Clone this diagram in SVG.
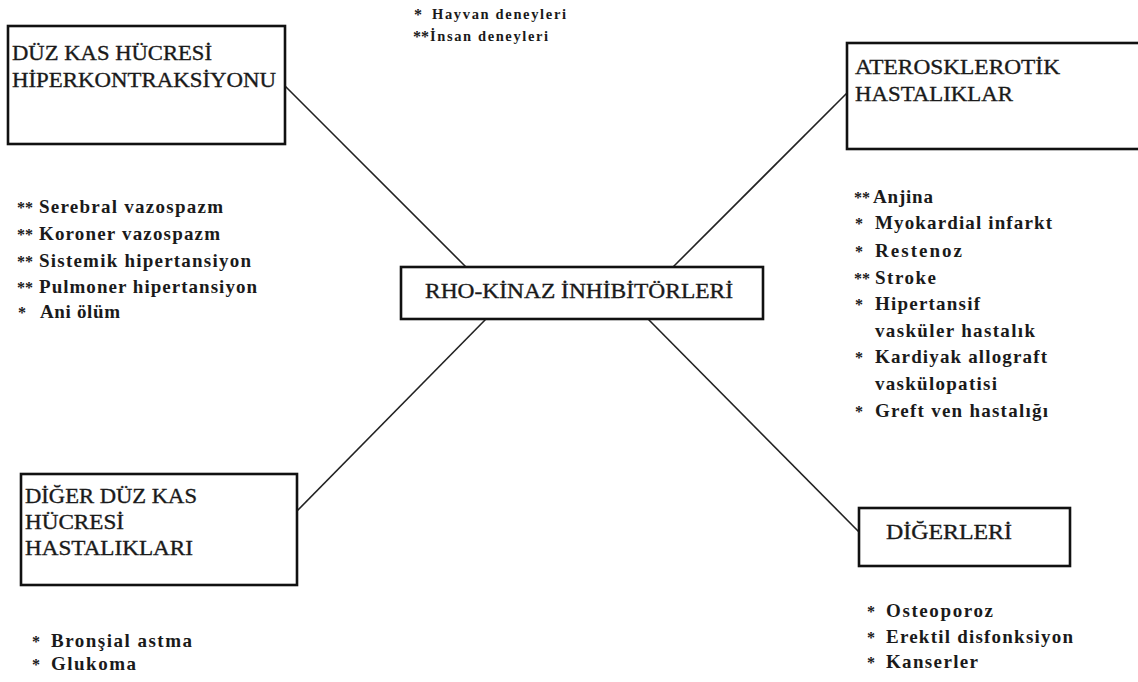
<svg xmlns="http://www.w3.org/2000/svg" width="1138" height="682" viewBox="0 0 1138 682">
<style>
.box{fill:#fff;stroke:#111;stroke-width:2.6}
.conn{stroke:#222;stroke-width:1.6;fill:none}
.t{font-family:"Liberation Serif","Times New Roman",serif;font-size:21.5px;fill:#1a1a1a;stroke:#1a1a1a;stroke-width:0.35}
.i{font-family:"Liberation Serif","Times New Roman",serif;font-size:19px;font-weight:bold;fill:#1a1a1a}
.s{font-family:"Liberation Serif","Times New Roman",serif;font-size:16px;font-weight:bold;fill:#1a1a1a}
.l{font-family:"Liberation Serif","Times New Roman",serif;font-size:14.5px;font-weight:bold;fill:#1a1a1a}
</style>
<rect width="1138" height="682" fill="#fff"/>
<g id="connectors">
<line class="conn" x1="285" y1="86" x2="466" y2="267"/>
<line class="conn" x1="673" y1="267" x2="847" y2="93"/>
<line class="conn" x1="486" y1="319" x2="297" y2="511"/>
<line class="conn" x1="648" y1="319" x2="859" y2="532"/>
</g>
<g id="legend">
<text class="s" x="414" y="20">*</text>
<text class="l" x="432" y="19" textLength="134" lengthAdjust="spacing">Hayvan deneyleri</text>
<text class="s" x="413" y="42">**</text>
<text class="l" x="430" y="41" textLength="118" lengthAdjust="spacing">İnsan deneyleri</text>
</g>
<g id="node-duz-kas">
<rect class="box" x="8" y="26" width="277" height="118"/>
<text class="t" x="12" y="60" textLength="200" lengthAdjust="spacingAndGlyphs">DÜZ KAS HÜCRESİ</text>
<text class="t" x="12" y="87" textLength="264" lengthAdjust="spacingAndGlyphs">HİPERKONTRAKSİYONU</text>
<text class="s" x="17" y="213">**</text>
<text class="i" x="39" y="213" textLength="184" lengthAdjust="spacing">Serebral vazospazm</text>
<text class="s" x="17" y="240">**</text>
<text class="i" x="39" y="240" textLength="181" lengthAdjust="spacing">Koroner vazospazm</text>
<text class="s" x="17" y="267">**</text>
<text class="i" x="39" y="267" textLength="212" lengthAdjust="spacing">Sistemik hipertansiyon</text>
<text class="s" x="17" y="293">**</text>
<text class="i" x="39" y="293" textLength="218" lengthAdjust="spacing">Pulmoner hipertansiyon</text>
<text class="s" x="18" y="318">*</text>
<text class="i" x="40" y="318" textLength="80" lengthAdjust="spacing">Ani ölüm</text>
</g>
<g id="node-ateroskl">
<rect class="box" x="847" y="43" width="300" height="106"/>
<text class="t" x="855" y="74" textLength="205" lengthAdjust="spacingAndGlyphs">ATEROSKLEROTİK</text>
<text class="t" x="855" y="101" textLength="158" lengthAdjust="spacingAndGlyphs">HASTALIKLAR</text>
<text class="s" x="854" y="203">**</text>
<text class="i" x="873" y="203" textLength="60" lengthAdjust="spacing">Anjina</text>
<text class="s" x="855" y="229">*</text>
<text class="i" x="875" y="229" textLength="177" lengthAdjust="spacing">Myokardial infarkt</text>
<text class="s" x="855" y="257">*</text>
<text class="i" x="875" y="257" textLength="87" lengthAdjust="spacing">Restenoz</text>
<text class="s" x="854" y="284">**</text>
<text class="i" x="875" y="284" textLength="61" lengthAdjust="spacing">Stroke</text>
<text class="s" x="855" y="310">*</text>
<text class="i" x="875" y="310" textLength="105" lengthAdjust="spacing">Hipertansif</text>
<text class="i" x="875" y="337" textLength="160" lengthAdjust="spacing">vasküler hastalık</text>
<text class="s" x="855" y="363">*</text>
<text class="i" x="875" y="363" textLength="172" lengthAdjust="spacing">Kardiyak allograft</text>
<text class="i" x="875" y="390" textLength="122" lengthAdjust="spacing">vaskülopatisi</text>
<text class="s" x="855" y="417">*</text>
<text class="i" x="875" y="417" textLength="173" lengthAdjust="spacing">Greft ven hastalığı</text>
</g>
<g id="node-rho">
<rect class="box" x="401" y="267" width="362" height="52"/>
<text class="t" x="425" y="298" textLength="308" lengthAdjust="spacingAndGlyphs">RHO-KİNAZ İNHİBİTÖRLERİ</text>
</g>
<g id="node-diger-duz">
<rect class="box" x="21" y="474" width="276" height="111"/>
<text class="t" x="25" y="503" textLength="172" lengthAdjust="spacingAndGlyphs">DİĞER DÜZ KAS</text>
<text class="t" x="25" y="529" textLength="99" lengthAdjust="spacingAndGlyphs">HÜCRESİ</text>
<text class="t" x="25" y="555" textLength="168" lengthAdjust="spacingAndGlyphs">HASTALIKLARI</text>
<text class="s" x="32" y="647">*</text>
<text class="i" x="51" y="647" textLength="141" lengthAdjust="spacing">Bronşial astma</text>
<text class="s" x="32" y="670">*</text>
<text class="i" x="51" y="670" textLength="85" lengthAdjust="spacing">Glukoma</text>
</g>
<g id="node-digerleri">
<rect class="box" x="859" y="508" width="211" height="58"/>
<text class="t" x="886" y="539" textLength="126" lengthAdjust="spacingAndGlyphs">DİĞERLERİ</text>
<text class="s" x="867" y="617">*</text>
<text class="i" x="886" y="617" textLength="107" lengthAdjust="spacing">Osteoporoz</text>
<text class="s" x="867" y="643">*</text>
<text class="i" x="886" y="643" textLength="187" lengthAdjust="spacing">Erektil disfonksiyon</text>
<text class="s" x="867" y="668">*</text>
<text class="i" x="886" y="668" textLength="92" lengthAdjust="spacing">Kanserler</text>
</g>
</svg>
